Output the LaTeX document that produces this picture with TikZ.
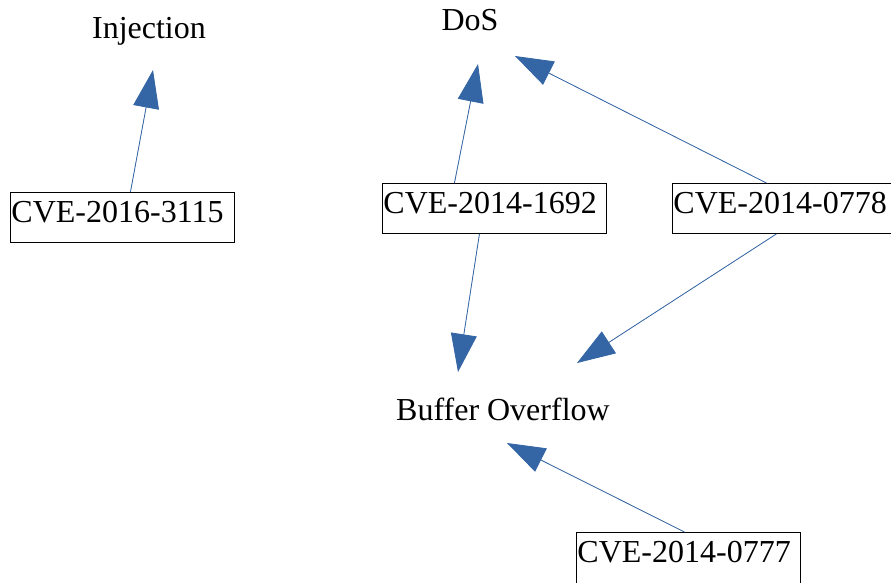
\documentclass[tikz,border=0pt]{standalone}
\usepackage{fontspec}
\setmainfont{Liberation Serif}
\usetikzlibrary{arrows.meta}
\definecolor{arrblue}{HTML}{3465A4}
\begin{document}
\begin{tikzpicture}[x=1pt,y=-1pt,
  lbl/.style={font=\fontsize{32}{36}\selectfont, inner sep=0pt, anchor=base},
  cvebox/.style={draw=black, line width=0.9pt, anchor=north west, font=\fontsize{32}{36}\selectfont,
     inner xsep=1pt, inner ysep=0pt, text width=222pt, align=left, text height=30pt, text depth=20pt},
  arr/.style={draw=arrblue, fill=arrblue, line width=0.8pt, -{Triangle[length=38pt,width=26pt]}}]
\useasboundingbox (0,0) rectangle (891,582);
\fill[white] (0,0) rectangle (891,582);
% labels
\node[lbl] (inj) at (149,38) {Injection};
\node[lbl] (dos) at (470,30) {DoS};
\node[lbl] (bof) at (503,420) {Buffer Overflow};
% boxes
\node[cvebox] (c3115) at (10,192) {CVE-2016-3115};
\node[cvebox] (c1692) at (382,183) {CVE-2014-1692};
\node[cvebox] (c0778) at (672,183) {CVE-2014-0778};
\node[cvebox, text depth=24pt] (c0777) at (576,532) {CVE-2014-0777};
% arrow tip coordinates
\coordinate (injIn) at (153,70);
\coordinate (dosInA) at (478,64);
\coordinate (dosInB) at (515,56);
\coordinate (bofInA) at (458,372);
\coordinate (bofInB) at (577,363);
\coordinate (bofInC) at (507,443);
% connectors
\draw[arr] ([xshift=8pt]c3115.north) -- (injIn);
\draw[arr] ([xshift=-40pt]c1692.north) -- (dosInA);
\draw[arr] ([xshift=-18pt]c0778.north) -- (dosInB);
\draw[arr] ([xshift=-15pt]c1692.south) -- (bofInA);
\draw[arr] ([xshift=-8pt]c0778.south) -- (bofInB);
\draw[arr] ([xshift=-4pt]c0777.north) -- (bofInC);
\end{tikzpicture}
\end{document}
